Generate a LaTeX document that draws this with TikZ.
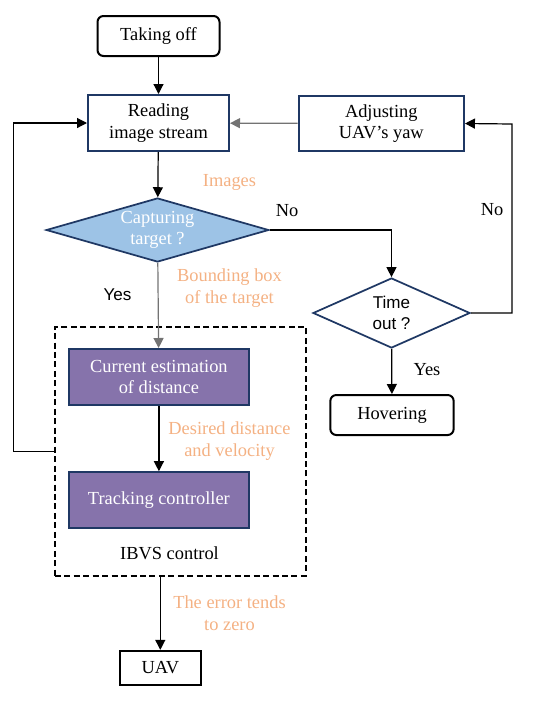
\documentclass[tikz,border=0pt]{standalone}
\usepackage{fontspec}
\setmainfont{Liberation Serif}
\setsansfont{Liberation Sans}
\usetikzlibrary{arrows.meta,shapes.geometric}
\definecolor{navy}{HTML}{1F3864}
\definecolor{lblue}{HTML}{9DC3E6}
\definecolor{lpurple}{HTML}{8673AB}
\definecolor{lorange}{HTML}{F4B183}
\begin{document}
\begin{tikzpicture}[x=0.75pt,y=-0.75pt,
  every node/.style={font=\fontsize{13.8pt}{16.3pt}\selectfont,align=center},
  endbox/.style={draw=black,line width=1.5pt,rounded corners=4.5pt,minimum width=91.5pt,minimum height=30pt},
  stepbox/.style={draw=navy,line width=1.5pt,minimum height=42pt},
  ctrlbox/.style={stepbox,fill=lpurple,text=white,minimum width=135.6pt},
  decide/.style={diamond,draw=navy,line width=1.3pt,inner sep=0pt},
  note/.style={text=lorange},
  sflabel/.style={font=\sffamily\fontsize{12.8pt}{16.3pt}\selectfont},
  arr/.style={-{Triangle[length=7.5pt,width=7.5pt]},line width=0.9pt},
  garr/.style={arr,draw=black!55}]
\useasboundingbox (0,0) rectangle (537,701);

\node (ibvs) at (180.3,451.2) [draw,dashed,dash pattern=on 4.5pt off 2.6pt,line width=1.5pt,minimum width=188.25pt,minimum height=186.75pt]{};

\node (takeoff) at (158.5,36) [endbox]{Taking off};
\node (reading) at (158.5,123) [stepbox,minimum width=105.75pt]{Reading\\image stream};
\node (adjust) at (381.3,123.5) [stepbox,minimum width=124pt,minimum height=41.25pt]{Adjusting\\UAV's yaw};
\node (capture) at (157.5,230) [decide,fill=lblue,minimum width=167pt,minimum height=48pt,
  label={[text=white]center:Capturing\\target ?}]{};
\node (timeout) at (391.5,313) [decide,minimum width=117.75pt,minimum height=52.5pt,
  label={[sflabel]center:Time\\out ?}]{};
\node (hover) at (392,415) [endbox,minimum width=92.5pt]{Hovering};
\node (estimate) at (158.9,377) [ctrlbox]{Current estimation\\of distance};
\node (tracker) at (158.9,500.2) [ctrlbox]{Tracking controller};
\node (uav) at (160.3,668) [draw,line width=1.5pt,minimum width=61pt,minimum height=25.7pt]{UAV};

\node (images) at (229.5,182) [note]{Images};
\node (bbox) at (229.5,288) [note]{Bounding box\\of the target};
\node (desired) at (229.5,441) [note]{Desired distance\\and velocity};
\node (errzero) at (229.5,613) [note]{The error tends\\to zero};
\node (ibvslabel) at (169.5,553) {IBVS control};
\node (yesleft) at (117.5,295) [sflabel]{Yes};
\node (noleft) at (287,211) {No};
\node (noright) at (492,210) {No};
\node (yesright) at (427,370) {Yes};

\coordinate (rloop) at (512,124);
\coordinate (lloop) at (13.5,451.2);

\draw[arr] (takeoff)--(reading);
\draw[arr] (reading)--(capture);
\draw[garr] (adjust)--(reading);
\draw[garr] (capture)--(estimate);
\draw[arr] (estimate)--(tracker);
\draw[arr] (capture.east) -| (timeout.north);
\draw[arr] (timeout.east) -| (rloop) -- (adjust.east);
\draw[arr] (timeout)--(hover);
\draw[arr] (ibvs.west) -- (lloop) |- (reading.west);
\draw[arr] (uav.north |- ibvs.south)--(uav);

\end{tikzpicture}
\end{document}
